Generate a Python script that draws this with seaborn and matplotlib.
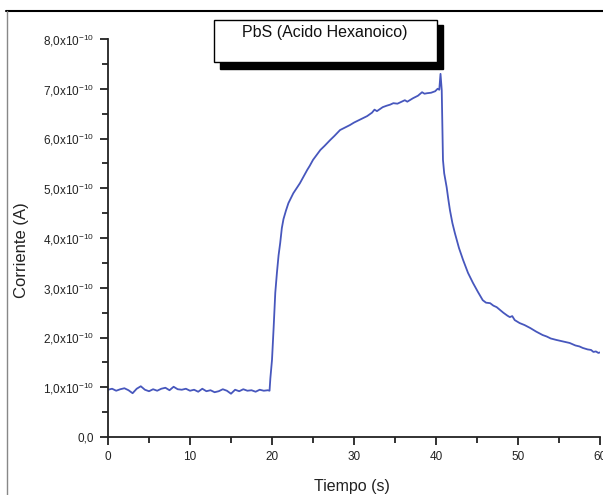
import matplotlib
matplotlib.use("Agg")
import matplotlib.pyplot as plt
from matplotlib.patches import Rectangle
from matplotlib.lines import Line2D
from matplotlib.ticker import FixedLocator, MultipleLocator
import seaborn as sns
import pandas as pd

# ---------------- data (current in units of 1e-10 A) ----------------
time_base = [0.0, 0.5, 1.0, 1.5, 2.0, 2.5, 3.0, 3.5, 4.0, 4.5,
             5.0, 5.5, 6.0, 6.5, 7.0, 7.5, 8.0, 8.5, 9.0, 9.5,
             10.0, 10.5, 11.0, 11.5, 12.0, 12.5, 13.0, 13.5, 14.0, 14.5,
             15.0, 15.5, 16.0, 16.5, 17.0, 17.5, 18.0, 18.5, 19.0, 19.5]
current_base = [0.95, 0.97, 0.93, 0.96, 0.98, 0.94, 0.88, 0.97, 1.02, 0.95,
                0.92, 0.96, 0.93, 0.97, 0.99, 0.94, 1.01, 0.96, 0.95, 0.97,
                0.93, 0.95, 0.91, 0.97, 0.92, 0.94, 0.90, 0.92, 0.96, 0.93,
                0.87, 0.95, 0.92, 0.96, 0.93, 0.94, 0.91, 0.95, 0.93, 0.94]
time_on = [19.7, 19.8, 20.0, 20.2, 20.4, 20.6, 20.8, 21.0, 21.2, 21.4,
           21.7, 22.0, 22.3, 22.6, 23.0, 23.4, 23.8, 24.3, 24.6, 25.0,
           25.4, 25.9, 26.4, 27.1, 27.6, 28.3, 28.9, 29.5, 30.0, 30.5,
           31.1, 31.6, 32.2, 32.5, 32.8, 33.5, 34.0, 34.4, 34.8, 35.3,
           35.8, 36.2, 36.5, 37.2, 37.8, 38.3, 38.6, 38.9, 39.4, 39.9,
           40.2, 40.4, 40.55, 40.7]
current_on = [0.93, 1.18, 1.55, 2.20, 2.90, 3.30, 3.65, 3.90, 4.20, 4.38,
              4.55, 4.70, 4.80, 4.90, 5.00, 5.10, 5.22, 5.37, 5.45, 5.57,
              5.66, 5.77, 5.85, 5.97, 6.05, 6.17, 6.22, 6.27, 6.32, 6.36,
              6.41, 6.45, 6.52, 6.58, 6.55, 6.63, 6.66, 6.68, 6.71, 6.70,
              6.74, 6.77, 6.74, 6.81, 6.86, 6.93, 6.90, 6.91, 6.92, 6.95,
              7.00, 6.98, 7.30, 6.97]
time_off = [40.85, 41.0, 41.3, 41.5, 41.7, 42.0, 42.3, 42.8, 43.3, 43.9,
            44.5, 45.1, 45.7, 46.1, 46.6, 47.0, 47.4, 48.2, 48.7, 49.0,
            49.3, 49.6, 50.2, 50.8, 51.5, 52.2, 53.0, 53.5, 54.0, 54.7,
            55.5, 56.3, 57.0, 57.5, 57.9, 58.5, 58.9, 59.2, 59.5, 59.8, 60.0]
current_off = [5.57, 5.30, 5.02, 4.78, 4.56, 4.30, 4.10, 3.80, 3.56, 3.30,
               3.10, 2.92, 2.75, 2.70, 2.69, 2.64, 2.61, 2.50, 2.44, 2.41,
               2.43, 2.35, 2.29, 2.25, 2.19, 2.12, 2.05, 2.02, 1.98, 1.95,
               1.92, 1.89, 1.84, 1.82, 1.79, 1.76, 1.75, 1.71, 1.72, 1.69, 1.70]

y_ticks = [0, 1, 2, 3, 4, 5, 6, 7, 8]
y_tick_labels = ["0,0", r"1,0x10$^{-10}$", r"2,0x10$^{-10}$", r"3,0x10$^{-10}$",
                 r"4,0x10$^{-10}$", r"5,0x10$^{-10}$", r"6,0x10$^{-10}$",
                 r"7,0x10$^{-10}$", r"8,0x10$^{-10}$"]
x_ticks = [0, 10, 20, 30, 40, 50, 60]
x_tick_labels = ["0", "10", "20", "30", "40", "50", "60"]
title_text = "PbS (Acido Hexanoico)"
x_label = "Tiempo (s)"
y_label = "Corriente (A)"

df = pd.DataFrame({
    "t": time_base + time_on + time_off,
    "I": current_base + current_on + current_off,
})

# ---------------- figure ----------------
sns.set_style("ticks")
plt.rcParams["font.family"] = ["Liberation Sans", "DejaVu Sans"]
plt.rcParams["mathtext.fontset"] = "custom"
plt.rcParams["mathtext.rm"] = "Liberation Sans"

W, H = 603, 495
fig = plt.figure(figsize=(W / 100, H / 100), dpi=100)
fig.patch.set_facecolor("white")
ax = fig.add_axes([108 / W, 1 - 437 / H, (600 - 108) / W, (437 - 39) / H])

sns.lineplot(data=df, x="t", y="I", ax=ax, color="#4757BD", linewidth=1.3)

ax.set_xlim(0, 60)
ax.set_ylim(0, 8)
for s in ["top", "right"]:
    ax.spines[s].set_visible(False)
for s in ["left", "bottom"]:
    ax.spines[s].set_linewidth(1.3)
    ax.spines[s].set_color("#222222")

ax.xaxis.set_major_locator(FixedLocator(x_ticks))
ax.set_xticklabels(x_tick_labels)
ax.xaxis.set_minor_locator(MultipleLocator(5))
ax.yaxis.set_major_locator(FixedLocator(y_ticks))
ax.set_yticklabels(y_tick_labels)
ax.yaxis.set_minor_locator(MultipleLocator(0.5))
ax.tick_params(axis="both", which="major", direction="out", length=6, width=1.3,
               color="#222222", labelsize=8.5, labelcolor="#222222", pad=4)
ax.tick_params(axis="both", which="minor", direction="out", length=4, width=1.3,
               color="#222222")
ax.set_xlabel("")
ax.set_ylabel("")

fig.text(352 / W, 1 - 487 / H, x_label, ha="center", va="center", fontsize=11.5,
         color="#222222")
fig.text(22 / W, 1 - 250 / H, y_label, ha="center", va="center", rotation=90,
         fontsize=12, color="#222222")

# outer frame lines
fig.add_artist(Line2D([6 / W, 1.0], [1 - 11 / H, 1 - 11 / H], color="black",
                      linewidth=1.5))
fig.add_artist(Line2D([7 / W, 7 / W], [0, 1 - 11 / H], color="#888888",
                      linewidth=1.0))

# title box with drop shadow
fig.add_artist(Rectangle((220 / W, 1 - 69 / H), 223 / W, 44 / H,
                         transform=fig.transFigure, facecolor="black",
                         edgecolor="black", zorder=5))
fig.add_artist(Rectangle((214 / W, 1 - 62 / H), 223 / W, 42 / H,
                         transform=fig.transFigure, facecolor="white",
                         edgecolor="black", linewidth=1.0, zorder=6))
fig.text(325 / W, 1 - 33 / H, title_text, ha="center", va="center",
         fontsize=11.5, color="#111111", zorder=7)

fig.savefig("out.png", dpi=100)
